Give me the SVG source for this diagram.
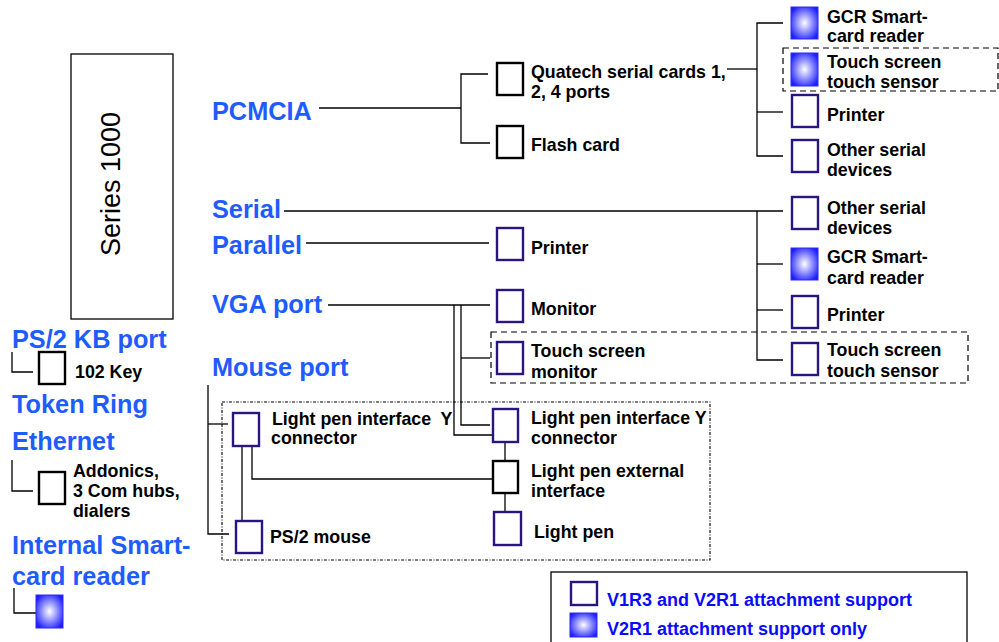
<svg xmlns="http://www.w3.org/2000/svg" width="999" height="642" viewBox="0 0 999 642">
<defs>
<radialGradient id="g" cx="0.5" cy="0.5" r="0.6">
<stop offset="0" stop-color="#ffffff"/>
<stop offset="1" stop-color="#1c1cff"/>
</radialGradient>
<style>
.bl{font-family:"Liberation Sans",Arial,sans-serif;font-weight:bold;font-size:25.3px;fill:#1f5cff}
.t{font-family:"Liberation Sans",Arial,sans-serif;font-weight:bold;font-size:17.8px;fill:#000}
.lg{font-family:"Liberation Sans",Arial,sans-serif;font-weight:bold;font-size:18px;fill:#0a0aff}
.p{fill:#fff;stroke:#2a1580;stroke-width:2.4}
.k{fill:#fff;stroke:#000;stroke-width:2.4}
.gr{fill:url(#g);stroke:#2a2aff;stroke-width:1}
.c{fill:none;stroke:#000;stroke-width:1.3}
.dash{fill:none;stroke:#000;stroke-width:1.2;stroke-dasharray:6,4}
.dot{fill:none;stroke:#000;stroke-width:1.1;stroke-dasharray:3,1.5,1,1.5}
</style>
</defs>
<rect width="999" height="642" fill="#fff"/>

<g id="series1000">
<rect x="71" y="54" width="102" height="265" fill="#fff" stroke="#000" stroke-width="1.3"/>
<text transform="translate(120,184) rotate(-90)" text-anchor="middle" style="font-family:'Liberation Sans',Arial,sans-serif;font-size:27px;fill:#000">Series 1000</text>
</g>

<g id="port-labels">
<text class="bl" x="212" y="120">PCMCIA</text>
<text class="bl" x="212" y="218">Serial</text>
<text class="bl" x="212" y="254">Parallel</text>
<text class="bl" x="212" y="313">VGA port</text>
<text class="bl" x="212" y="376">Mouse port</text>
<text class="bl" x="12" y="348">PS/2 KB port</text>
<text class="bl" x="12" y="413">Token Ring</text>
<text class="bl" x="12" y="450">Ethernet</text>
<text class="bl" x="12" y="554">Internal Smart-</text>
<text class="bl" x="12" y="585">card reader</text>
</g>

<g id="groups">
<rect class="dash" x="783" y="48" width="215" height="43"/>
<rect class="dash" x="491" y="332" width="477" height="51"/>
<rect class="dot" x="222" y="402" width="488" height="158"/>
</g>

<g id="connectors">
<polyline class="c" points="319,108 461,108"/>
<polyline class="c" points="488,74 461,74 461,143 490,143"/>
<polyline class="c" points="727,69 757,69"/>
<polyline class="c" points="783,23 757,23 757,156 783,156"/>
<polyline class="c" points="757,112 783,112"/>
<polyline class="c" points="284,211 783,211"/>
<polyline class="c" points="757,211 757,360 783,360"/>
<polyline class="c" points="757,264 783,264"/>
<polyline class="c" points="757,310 783,310"/>
<polyline class="c" points="306,243 489,243"/>
<polyline class="c" points="328,305 490,305"/>
<polyline class="c" points="454,305 454,435 493,435"/>
<polyline class="c" points="461,305 461,425 490,425"/>
<polyline class="c" points="461,358 490,358"/>
<polyline class="c" points="505,442 505,461"/>
<polyline class="c" points="505,493 505,512"/>
<polyline class="c" points="208,385 208,534 229,534"/>
<polyline class="c" points="208,424 228,424"/>
<polyline class="c" points="242,446 242,521"/>
<polyline class="c" points="252,446 252,479 493,479"/>
<polyline class="c" points="12,352 12,372 33,372"/>
<polyline class="c" points="12,460 12,491 33,491"/>
<polyline class="c" points="14,588 14,613 36,613"/>
</g>

<g id="quatech"><rect class="k" x="497" y="63" width="26" height="32"/><text class="t" x="531" y="78">Quatech serial cards 1,</text><text class="t" x="531" y="98">2, 4 ports</text></g>
<g id="flash-card"><rect class="k" x="497" y="126" width="26" height="32"/><text class="t" x="531" y="151">Flash card</text></g>

<g id="gcr-1"><rect class="gr" x="791" y="7" width="27" height="32"/><text class="t" x="827" y="23">GCR Smart-</text><text class="t" x="827" y="42">card reader</text></g>
<g id="touch-sensor-1"><rect class="gr" x="791" y="53" width="27" height="33"/><text class="t" x="827" y="68">Touch screen</text><text class="t" x="827" y="88">touch sensor</text></g>
<g id="printer-1"><rect class="p" x="792" y="95" width="26" height="32"/><text class="t" x="827" y="121">Printer</text></g>
<g id="other-serial-1"><rect class="p" x="792" y="140" width="26" height="32"/><text class="t" x="827" y="156">Other serial</text><text class="t" x="827" y="176">devices</text></g>

<g id="other-serial-2"><rect class="p" x="792" y="197" width="26" height="32"/><text class="t" x="827" y="214">Other serial</text><text class="t" x="827" y="234">devices</text></g>
<g id="gcr-2"><rect class="gr" x="791" y="248" width="27" height="32"/><text class="t" x="827" y="263">GCR Smart-</text><text class="t" x="827" y="284">card reader</text></g>
<g id="printer-2"><rect class="p" x="792" y="296" width="26" height="32"/><text class="t" x="827" y="321">Printer</text></g>
<g id="touch-sensor-2"><rect class="p" x="792" y="343" width="26" height="32"/><text class="t" x="827" y="356">Touch screen</text><text class="t" x="827" y="377">touch sensor</text></g>

<g id="printer-parallel"><rect class="p" x="497" y="228" width="26" height="32"/><text class="t" x="531" y="254">Printer</text></g>
<g id="monitor"><rect class="p" x="497" y="290" width="26" height="32"/><text class="t" x="531" y="315">Monitor</text></g>
<g id="touch-monitor"><rect class="p" x="497" y="342" width="26" height="32"/><text class="t" x="531" y="357">Touch screen</text><text class="t" x="531" y="378">monitor</text></g>
<g id="lp-y-right"><rect class="p" x="493" y="409" width="25" height="33"/><text class="t" x="531" y="424">Light pen interface Y</text><text class="t" x="531" y="444">connector</text></g>
<g id="lp-external"><rect class="k" x="493" y="461" width="25" height="32"/><text class="t" x="531" y="477">Light pen external</text><text class="t" x="531" y="497">interface</text></g>
<g id="light-pen"><rect class="p" x="494" y="512" width="27" height="33"/><text class="t" x="534" y="538">Light pen</text></g>
<g id="lp-y-left"><rect class="p" x="233" y="413" width="26" height="33"/><text class="t" x="272" y="425" xml:space="preserve">Light pen interface  Y</text><text class="t" x="271" y="444">connector</text></g>
<g id="ps2-mouse"><rect class="p" x="236" y="521" width="26" height="32"/><text class="t" x="270" y="543">PS/2 mouse</text></g>

<g id="kb-102"><rect class="k" x="39" y="352" width="26" height="32"/><text class="t" x="75" y="378">102 Key</text></g>
<g id="addonics"><rect class="k" x="39" y="472" width="26" height="32"/><text class="t" x="73" y="477">Addonics,</text><text class="t" x="73" y="497">3 Com hubs,</text><text class="t" x="73" y="517">dialers</text></g>
<g id="internal-smartcard"><rect class="gr" x="36" y="595" width="27" height="33"/></g>

<g id="legend">
<rect x="551" y="572" width="416" height="80" fill="#fff" stroke="#000" stroke-width="1.3"/>
<rect class="p" x="571" y="582" width="26" height="23"/>
<text class="lg" x="607" y="606">V1R3 and V2R1 attachment support</text>
<rect class="gr" x="570" y="613" width="27" height="24"/>
<text class="lg" x="607" y="635">V2R1 attachment support only</text>
</g>
</svg>
